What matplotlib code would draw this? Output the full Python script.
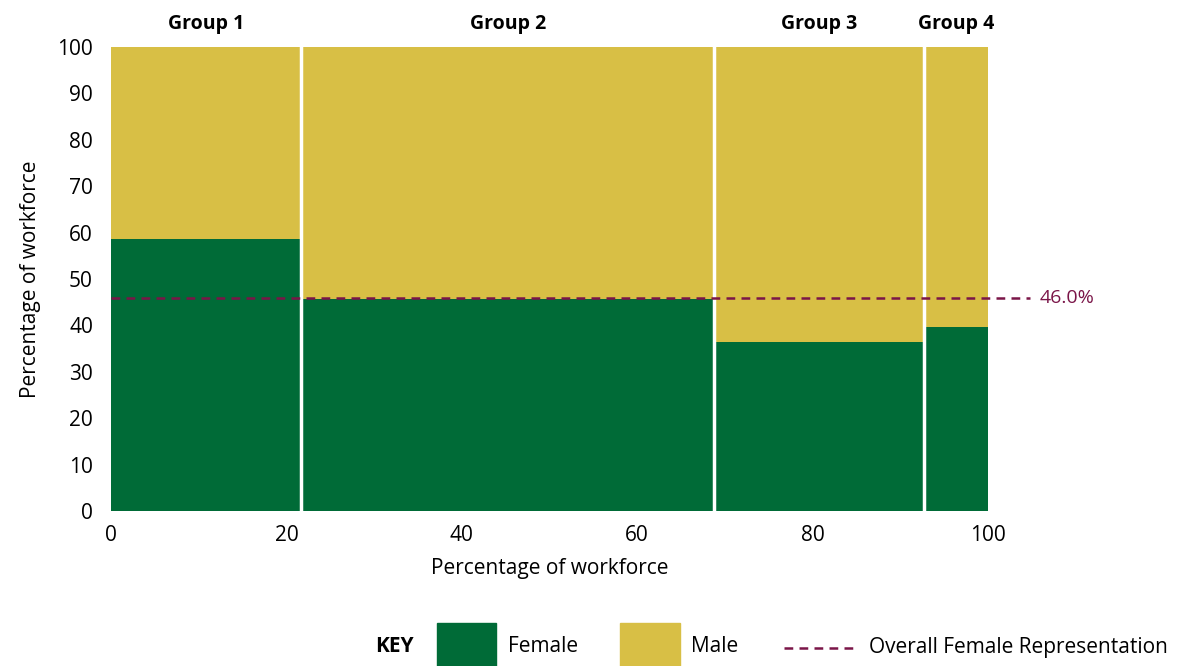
import numpy as np
import matplotlib.pyplot as plt
from matplotlib.patches import Rectangle
from matplotlib.lines import Line2D
from matplotlib.transforms import blended_transform_factory

plt.rcParams['font.family'] = ['Open Sans', 'DejaVu Sans']

# data
groups = ['Group 1', 'Group 2', 'Group 3', 'Group 4']
widths = [21.7, 47.1, 23.9, 7.3]
female = [58.6, 45.7, 36.4, 39.7]
overall_female = 46.0

green = '#006b37'
yellow = '#d8bf45'
maroon = '#7a1548'

fig = plt.figure(figsize=(11.82, 6.66), dpi=100)
ax = fig.add_axes([111 / 1182, 1 - 511 / 666, 877 / 1182, 464 / 666])

lefts = np.concatenate([[0], np.cumsum(widths)[:-1]])
male = [100 - f for f in female]
ax.bar(lefts, female, width=widths, align='edge', color=green, linewidth=0)
ax.bar(lefts, male, width=widths, bottom=female, align='edge', color=yellow,
       linewidth=0)
# white gaps between groups
for l in lefts[1:]:
    ax.axvline(l, color='white', linewidth=2.5, zorder=3)

# overall line, runs past the plot
ax.plot([0, 104.8], [overall_female, overall_female], color=maroon,
        linestyle=(0, (3.5, 2.5)), linewidth=1.8, clip_on=False, zorder=5)
ax.text(105.9, overall_female, f'{overall_female:.1f}%', color=maroon,
        fontsize=14, va='center', ha='left')

# group labels on top
trans = blended_transform_factory(ax.transData, ax.transAxes)
for g, l, w in zip(groups, lefts, widths):
    ax.text(l + w / 2, 1.05, g, transform=trans, ha='center', va='center',
            fontsize=14, fontweight='bold')

ax.set_xlim(0, 100)
ax.set_ylim(0, 100)
ax.set_xticks(np.arange(0, 101, 20))
ax.set_yticks(np.arange(0, 101, 10))
ax.tick_params(length=0, labelsize=15)
ax.tick_params(axis='x', pad=10)
ax.tick_params(axis='y', pad=13)
ax.set_xlabel('Percentage of workforce', fontsize=15, labelpad=9)
ax.set_ylabel('Percentage of workforce', fontsize=15, labelpad=12)
for s in ax.spines.values():
    s.set_visible(False)

# key at bottom
def fx(px):
    return px / 1182
def fy(py):
    return 1 - py / 666

fig.text(fx(394), fy(647), 'KEY', fontsize=15, fontweight='bold',
         ha='center', va='center')
fig.add_artist(Rectangle((fx(437), fy(666)), fx(59), 43 / 666,
                         transform=fig.transFigure, color=green))
fig.text(fx(508), fy(647), 'Female', fontsize=15, va='center')
fig.add_artist(Rectangle((fx(620), fy(666)), fx(60), 43 / 666,
                         transform=fig.transFigure, color=yellow))
fig.text(fx(691), fy(647), 'Male', fontsize=15, va='center')
fig.add_artist(Line2D([fx(784), fx(859)], [fy(648), fy(648)],
                      transform=fig.transFigure, color=maroon,
                      linestyle=(0, (3.5, 2.5)), linewidth=1.8))
fig.text(fx(869), fy(647), 'Overall Female Representation', fontsize=15,
         va='center')

fig.savefig('out.png', dpi=100)
